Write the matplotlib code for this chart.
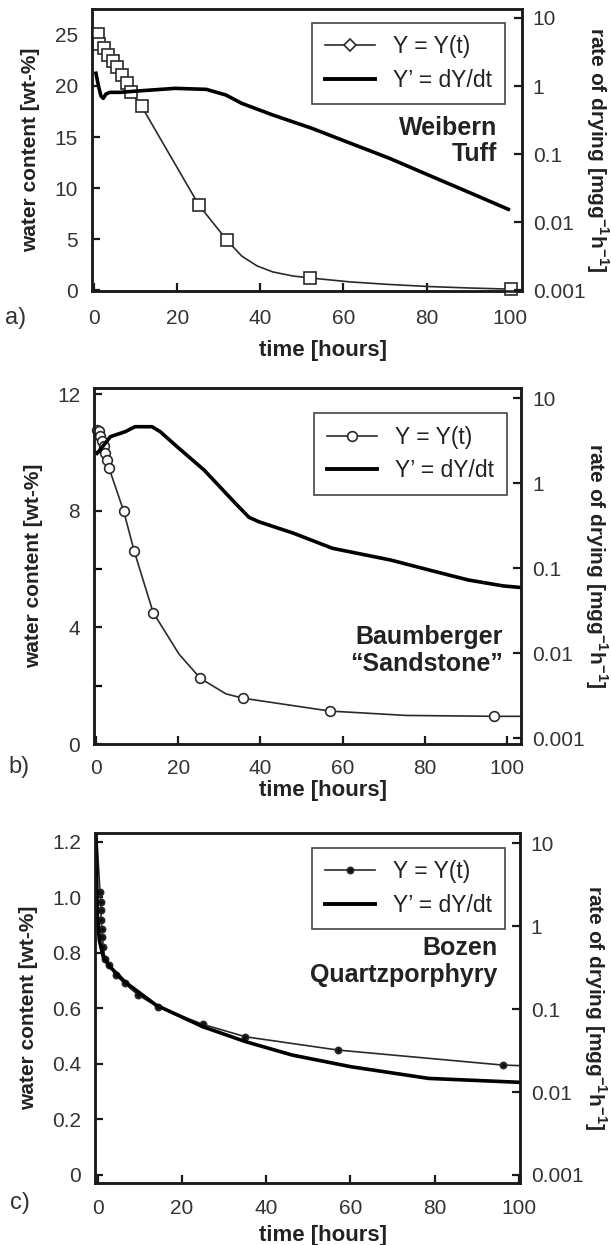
import matplotlib.pyplot as plt
from matplotlib.lines import Line2D
from matplotlib.ticker import FixedLocator, NullLocator

plt.rcParams['font.family'] = ['Liberation Sans', 'DejaVu Sans']
plt.rcParams['mathtext.fontset'] = 'custom'
plt.rcParams['mathtext.rm'] = 'Liberation Sans'
plt.rcParams['mathtext.bf'] = 'Liberation Sans:bold'

# ---- a) Weibern Tuff ----
a_mark_t = [0.84, 1.23, 2.43, 3.4, 4.45, 5.41, 6.62, 7.97, 8.8, 11.4, 25.2, 31.9, 51.9, 100.4]
a_mark_y = [25.09, 24.11, 23.72, 23.07, 22.41, 21.83, 21.11, 20.30, 19.42, 18.02, 8.34, 4.92, 1.2, 0.1]
a_curve_t = [0.84, 1.23, 2.43, 3.4, 4.45, 5.41, 6.62, 7.97, 8.8, 11.4, 25.2, 31.9, 35.5, 39.2,
             43.0, 47.7, 51.9, 61.7, 71.1, 80.5, 89.9, 100.4]
a_curve_y = [25.09, 24.11, 23.72, 23.07, 22.41, 21.83, 21.11, 20.30, 19.42, 18.02, 8.34, 4.92, 3.35, 2.38,
             1.79, 1.40, 1.2, 0.81, 0.56, 0.36, 0.22, 0.1]
a_rate_t = [0.43, 1.0, 1.64, 2.2, 2.84, 3.8, 6.2, 10.2, 19.5, 27.0, 31.7, 35.5, 43.0, 52.4,
            61.7, 71.1, 80.5, 89.9, 99.7]
a_rate = [1.54, 1.03, 0.713, 0.659, 0.762, 0.807, 0.807, 0.843, 0.924, 0.893, 0.738, 0.557, 0.375, 0.239,
          0.144, 0.0865, 0.049, 0.0279, 0.0154]

# ---- b) Baumberger "Sandstone" ----
b_mark_t = [0.24, 0.65, 1.04, 1.46, 1.87, 2.26, 2.67, 3.2, 6.7, 9.3, 13.9, 25.4, 35.8, 56.9, 96.8]
b_mark_y = [10.77, 10.72, 10.55, 10.38, 10.21, 9.98, 9.75, 9.45, 8.0, 6.61, 4.51, 2.25, 1.57, 1.13, 0.95]
b_curve_t = [0.24, 0.65, 1.04, 1.46, 1.87, 2.26, 2.67, 3.2, 6.7, 9.3, 13.9, 20.2, 25.4, 31.6, 35.8,
             56.9, 75.5, 96.8, 103.6]
b_curve_y = [10.77, 10.72, 10.55, 10.38, 10.21, 9.98, 9.75, 9.45, 8.0, 6.61, 4.51, 3.08, 2.25, 1.72, 1.57,
             1.13, 0.98, 0.95, 0.95]
b_rate_t = [0.24, 2.26, 3.47, 7.1, 9.5, 13.6, 15.6, 19.7, 26.3, 30.1, 33.9, 37.2, 39.6, 48.1,
            57.5, 71.7, 81.2, 90.6, 99.1, 102.9]
b_rate = [2.25, 2.95, 3.53, 4.05, 4.63, 4.63, 4.05, 2.70, 1.43, 0.912, 0.582, 0.398, 0.353, 0.258,
          0.172, 0.125, 0.095, 0.0728, 0.062, 0.0597]

# ---- c) Bozen Quartzporphyry ----
c_mark_t = [0.48, 0.64, 0.71, 0.78, 0.88, 1.02, 1.26, 1.66, 2.7, 4.2, 6.35, 9.58, 14.2, 24.9,
            35.05, 57.1, 96.2]
c_mark_y = [1.02, 0.984, 0.954, 0.918, 0.888, 0.858, 0.822, 0.780, 0.755, 0.72, 0.690, 0.648, 0.606, 0.543,
            0.498, 0.450, 0.396]
c_curve_t = [-0.35, 0.1] + c_mark_t + [100.2]
c_curve_y = [1.24, 1.12] + c_mark_y + [0.394]
c_rate_t = [-0.5, -0.31, -0.17, 0.31, 1.26, 2.85, 5.23, 6.35, 13.8, 24.9, 35.1, 46.2, 60.1, 78.6, 100.2]
c_rate = [14.0, 3.6, 1.43, 0.682, 0.428, 0.324, 0.246, 0.214, 0.112, 0.0614, 0.0405, 0.0279, 0.0202,
          0.0146, 0.0131]

time_ticks = [0, 20, 40, 60, 80, 100]
rate_ticks = [0.001, 0.01, 0.1, 1, 10]
rate_tick_labels = ["0.001", "0.01", "0.1", "1", "10"]
a_wc_ticks = [0, 5, 10, 15, 20, 25]
b_wc_ticks = [0, 4, 8, 12]
b_wc_minor = [2, 6, 10]
c_wc_ticks = [0, 0.2, 0.4, 0.6, 0.8, 1.0, 1.2]
c_wc_labels = ["0", "0.2", "0.4", "0.6", "0.8", "1.0", "1.2"]

THIN = '#2a2a2a'
FS = 15

fig = plt.figure(figsize=(6.11, 12.45), dpi=100)


def draw_panel(rect, curve_t, curve_y, mark_t, mark_y, rate_t, rate, xlim, ylim, rlim,
               marker, ms, mfc, leg_marker, leg_ms, leg_anchor, name, name_xy,
               xlabel_y, panel_lbl, panel_xy, xpad):
    ax = fig.add_axes(rect)
    ax2 = ax.twinx()

    ax.plot(curve_t, curve_y, color=THIN, lw=1.2, zorder=3)
    ax.plot(mark_t, mark_y, linestyle='none', marker=marker, ms=ms, mfc=mfc, mec=THIN,
            mew=1.2, zorder=4, clip_on=False)
    ax2.plot(rate_t, rate, color='black', lw=2.6, solid_joinstyle='round')

    ax.set_xlim(*xlim)
    ax.set_ylim(*ylim)
    ax2.set_yscale('log')
    ax2.set_ylim(*rlim)
    ax2.yaxis.set_major_locator(FixedLocator(rate_ticks))
    ax2.yaxis.set_minor_locator(NullLocator())
    ax2.set_yticklabels(rate_tick_labels)
    ax.set_xticks(time_ticks)

    for a in (ax, ax2):
        for sp in a.spines.values():
            sp.set_linewidth(1.8)
            sp.set_color('#1a1a1a')
    ax.tick_params(axis='x', direction='in', length=6, width=1.6, pad=xpad, labelsize=FS,
                   colors='#1a1a1a', labelcolor='#333333')
    ax.tick_params(axis='y', direction='in', length=6, width=1.6, pad=10, labelsize=FS,
                   colors='#1a1a1a', labelcolor='#333333')
    ax.tick_params(axis='y', which='minor', direction='in', length=6, width=1.6)
    ax2.tick_params(axis='y', direction='in', length=6, width=1.6, pad=8, labelsize=FS,
                    colors='#1a1a1a', labelcolor='#333333')

    ax.set_xlabel("time [hours]", fontsize=16, fontweight='bold', color='#222222')
    ax.xaxis.set_label_coords(0.537, xlabel_y)
    ax.set_ylabel("water content [wt-%]", fontsize=FS, fontweight='bold', color='#222222',
                  labelpad=10)
    ax2.set_ylabel(r"rate of drying [mgg$^{\mathbf{-1}}$h$^{\mathbf{-1}}$]", fontsize=FS,
                   fontweight='bold', color='#222222', rotation=270, labelpad=18)

    handles = [Line2D([], [], color=THIN, lw=1.2, marker=leg_marker, ms=leg_ms, mfc=mfc, mec=THIN,
                      mew=1.2),
               Line2D([], [], color='black', lw=2.8)]
    leg = ax2.legend(handles, ["Y = Y(t)", "Y\u2019 = dY/dt"], loc='upper right',
                     bbox_to_anchor=leg_anchor, fontsize=16.5, fancybox=False, framealpha=1,
                     edgecolor='#444444', handlelength=2.2, handletextpad=0.8, borderpad=0.55,
                     labelspacing=0.45, borderaxespad=0)
    leg.get_frame().set_linewidth(1.2)
    for txt in leg.get_texts():
        txt.set_color('#222222')

    ax2.text(name_xy[0], name_xy[1], name, transform=ax2.transAxes, ha='right', va='center',
             fontsize=18, fontweight='bold', color='#222222', linespacing=1.15)
    fig.text(panel_xy[0], panel_xy[1], panel_lbl, ha='left', va='center', fontsize=17,
             color='#333333')
    return ax, ax2


# panel a
ax_a, ax_a2 = draw_panel([0.150, 0.7665, 0.7038, 0.226], a_curve_t, a_curve_y, a_mark_t, a_mark_y,
                         a_rate_t, a_rate, (-0.6, 102.9), (-0.05, 27.5), (0.00098, 13.4),
                         's', 8, 'white', 'D', 6, (0.961, 0.952), "Weibern\nTuff", (0.943, 0.532),
                         -0.175, "a)", (0.008, 0.7446), 13)
ax_a.set_yticks(a_wc_ticks)

# panel b
ax_b, ax_b2 = draw_panel([0.1538, 0.4024, 0.699, 0.2857], b_curve_t, b_curve_y, b_mark_t, b_mark_y,
                         b_rate_t, b_rate, (-0.5, 103.4), (0, 12.2), (0.000857, 13.1),
                         'o', 7, 'white', 'o', 7, (0.967, 0.93),
                         "Baumberger\n\u201cSandstone\u201d", (0.957, 0.264),
                         -0.101, "b)", (0.014, 0.3842), 11)
ax_b.set_yticks(b_wc_ticks)
ax_b.set_yticks(b_wc_minor, minor=True)

# panel c
ax_c, ax_c2 = draw_panel([0.1555, 0.05, 0.6948, 0.2811], c_curve_t, c_curve_y, c_mark_t, c_mark_y,
                         c_rate_t, c_rate, (-0.7, 100.2), (-0.028, 1.233), (0.000805, 13.4),
                         'o', 4.5, '#111111', 'o', 4.5, (0.966, 0.957),
                         "Bozen\nQuartzporphyry", (0.947, 0.631),
                         -0.121, "c)", (0.017, 0.0337), 12)
ax_c.set_yticks(c_wc_ticks)
ax_c.set_yticklabels(c_wc_labels)

fig.savefig("out.png", dpi=100)
